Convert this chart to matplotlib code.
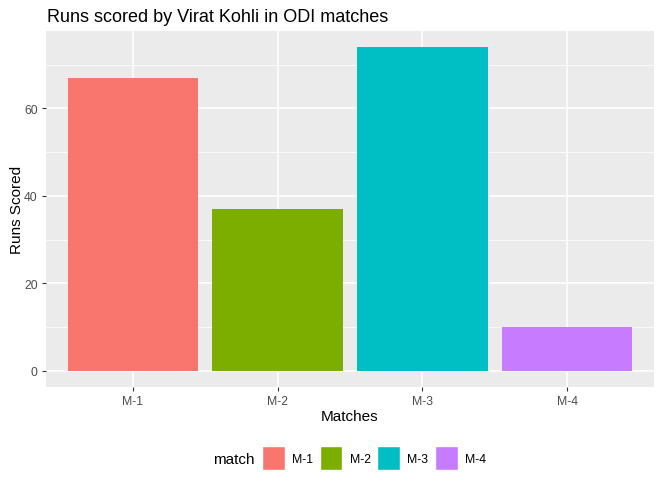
import matplotlib
matplotlib.use("Agg")
import matplotlib.pyplot as plt
from matplotlib.ticker import MultipleLocator

# data
matches = ["M-1", "M-2", "M-3", "M-4"]
runs = [67, 37, 74, 10]
colors = ["#F8766D", "#7CAE00", "#00BFC4", "#C77CFF"]

plt.rcParams['font.family'] = ['Liberation Sans', 'DejaVu Sans']

W, H = 662, 485
fig = plt.figure(figsize=(W / 100, H / 100), dpi=100)
ax = fig.add_axes([46 / W, 1 - 388 / H, (654 - 46) / W, (388 - 32) / H])
ax.set_facecolor("#EBEBEB")

xs = range(1, len(matches) + 1)
bars = ax.bar(xs, runs, width=0.9, color=colors, zorder=3)

ax.set_xlim(0.4, 4.6)
ymax = max(runs) * 1.05
ax.set_ylim(-max(runs) * 0.05, ymax)
ax.set_xticks(list(xs))
ax.set_xticklabels(matches)
ax.yaxis.set_major_locator(MultipleLocator(20))
ax.yaxis.set_minor_locator(MultipleLocator(10))

ax.grid(which="major", color="white", linewidth=1.1, zorder=0)
ax.grid(which="minor", axis="y", color="white", linewidth=0.55, zorder=0)
ax.set_axisbelow(True)
for s in ax.spines.values():
    s.set_visible(False)
ax.tick_params(which="major", length=3, width=0.8, color="#333333",
               labelcolor="#4D4D4D", labelsize=8.8, pad=3)
ax.tick_params(which="minor", length=0)

ax.set_xlabel("Matches", fontsize=11, labelpad=1)
ax.set_ylabel("Runs Scored", fontsize=11, labelpad=0)
fig.text(47 / W, 1 - 17 / H, "Runs scored by Virat Kohli in ODI matches",
         fontsize=13, va="center", ha="left")

# legend
fig.text(213 / W, 1 - 460 / H, "match", fontsize=11, va="center", ha="left")
leg = fig.legend(bars, matches, loc="center left", bbox_to_anchor=(262 / W, 1 - 459 / H),
                 ncol=4, frameon=False, fontsize=8.8, handlelength=1.85,
                 handleheight=2.6, handletextpad=0.6, columnspacing=0.55,
                 borderpad=0, borderaxespad=0)
for p in leg.get_patches():
    p.set_edgecolor("white")

fig.savefig("out.png", dpi=100)
